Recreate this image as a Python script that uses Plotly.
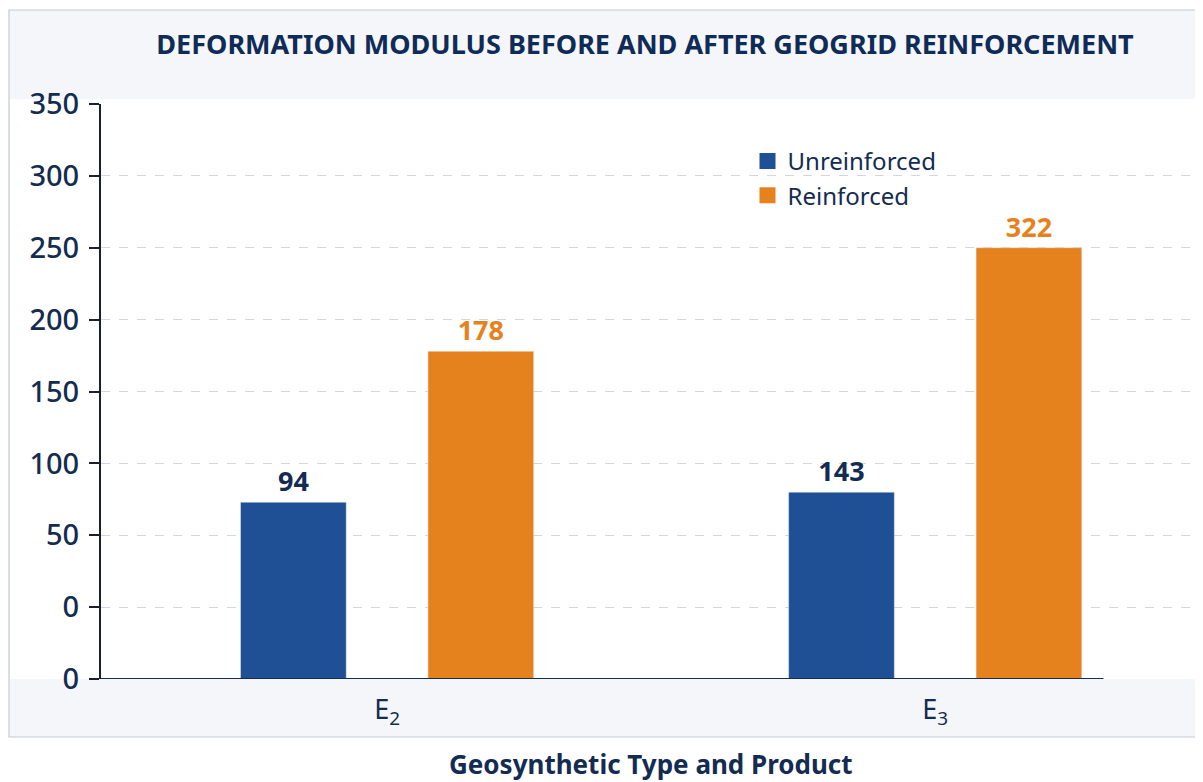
import plotly.graph_objects as go

# ---- data ----
categories = ["E<sub>2</sub>", "E<sub>3</sub>"]
series_names = ["Unreinforced", "Reinforced"]
# bar tops as drawn against the printed axis
unreinforced_drawn = [73, 80]
reinforced_drawn = [178, 250]
# value labels as printed above the bars
unreinforced_labels = ["94", "143"]
reinforced_labels = ["178", "322"]
# y tick labels as printed (note the repeated zero)
y_tick_values = [-50, 0, 50, 100, 150, 200, 250, 300, 350]
y_tick_labels = ["0", "0", "50", "100", "150", "200", "250", "300", "350"]
axis_base = -50

BLUE = "#1f4f95"
ORANGE = "#e6821e"
NAVY = "#142b52"
FONT = "Noto Sans"

fig = go.Figure()
fig.add_trace(go.Bar(
    x=categories, y=[v - axis_base for v in unreinforced_drawn], base=axis_base,
    name=series_names[0], marker_color=BLUE, showlegend=False,
    text=unreinforced_labels, textposition="outside", cliponaxis=False,
    textfont=dict(family=FONT, size=27, color=NAVY, weight="bold"),
))
fig.add_trace(go.Bar(
    x=categories, y=[v - axis_base for v in reinforced_drawn], base=axis_base,
    name=series_names[1], marker_color=ORANGE, showlegend=False,
    text=reinforced_labels, textposition="outside", cliponaxis=False,
    textfont=dict(family=FONT, size=27, color=ORANGE, weight="bold"),
))
# legend entries with larger square swatches
for nm, col in zip(series_names, [BLUE, ORANGE]):
    fig.add_trace(go.Scatter(
        x=[None], y=[None], mode="markers", name=nm,
        marker=dict(symbol="square", size=21, color=col),
    ))

# page is rendered with an 8px body margin; work in page pixels
OFF = 8
PAGE_W, PAGE_H = 1203, 782
W, H = PAGE_W - OFF, PAGE_H - OFF
PLOT_L, PLOT_R, PLOT_T, PLOT_B = 101, 1195, 104, 679  # page pixels
L = PLOT_L - OFF
T = PLOT_T - OFF
R = W - (PLOT_R - OFF)
B = H - (PLOT_B - OFF)
pw, ph = PLOT_R - PLOT_L, PLOT_B - PLOT_T

def px_x(p):
    return (p - PLOT_L) / pw

def px_y(p):
    return (PLOT_B - p) / ph

X_LEFT = -0.522
X_RIGHT = 1.474
X_AXIS_END = 1.307

shapes = [
    # outer panel
    dict(type="rect", xref="paper", yref="paper", layer="below",
         x0=px_x(9), x1=px_x(1197), y0=px_y(737), y1=px_y(10),
         fillcolor="#f5f6f9", line=dict(color="#c3cad4", width=1.2)),
    # white plotting band
    dict(type="rect", xref="paper", yref="paper", layer="below",
         x0=px_x(10), x1=px_x(1196), y0=px_y(679), y1=px_y(99),
         fillcolor="#ffffff", line=dict(width=0)),
    # x axis baseline
    dict(type="line", xref="x", yref="y", layer="above",
         x0=X_LEFT, x1=X_AXIS_END, y0=axis_base, y1=axis_base,
         line=dict(color=NAVY, width=2)),
]

fig.update_layout(
    width=W, height=H,
    margin=dict(l=L, r=R, t=T, b=B),
    paper_bgcolor="#ffffff", plot_bgcolor="#ffffff",
    barmode="group", bargap=0.316, bargroupgap=0.436,
    font=dict(family=FONT, color=NAVY),
    title=dict(text="DEFORMATION MODULUS BEFORE AND AFTER GEOGRID REINFORCEMENT",
               x=(645 - OFF) / W, xanchor="center", y=1 - (45 - OFF) / H, yanchor="middle",
               font=dict(family=FONT, size=27, color="#0f2b57", weight="bold")),
    legend=dict(x=px_x(747.5), y=px_y(139), xanchor="left", yanchor="top",
                bgcolor="rgba(0,0,0,0)", font=dict(family=FONT, size=24, color=NAVY)),
    shapes=shapes,
    annotations=[dict(text="<b>Geosynthetic Type and Product</b>", xref="paper", yref="paper",
                      x=px_x(651), y=px_y(764), xanchor="center", yanchor="middle",
                      showarrow=False, font=dict(family=FONT, size=26, color=NAVY))],
)
fig.update_xaxes(
    range=[X_LEFT, X_RIGHT], showline=False, showgrid=False, zeroline=False,
    ticks="", tickfont=dict(family=FONT, size=27, color=NAVY), ticklabelstandoff=12,
)
fig.update_yaxes(
    range=[axis_base, 350], tickvals=y_tick_values, ticktext=y_tick_labels,
    showline=True, linecolor="#1a1f2b", linewidth=2,
    ticks="outside", ticklen=10, tickwidth=1.5, tickcolor="#1a1f2b",
    tickfont=dict(family=FONT, size=29, color=NAVY, weight=500),
    ticklabelstandoff=4,
    showgrid=True, gridcolor="#d3d7dd", gridwidth=1, griddash="dash",
    zeroline=False,
)

fig.write_html("out.html")
